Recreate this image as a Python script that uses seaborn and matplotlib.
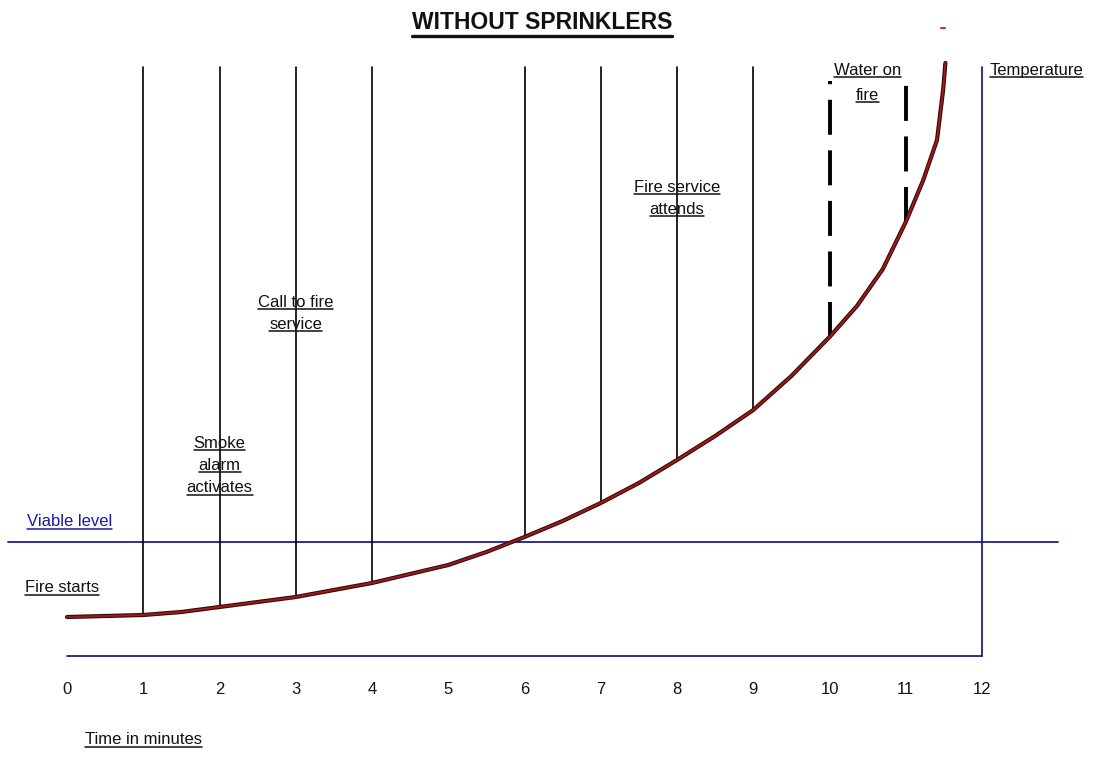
import matplotlib
matplotlib.use("Agg")
import matplotlib.pyplot as plt
import matplotlib.patheffects as pe
from matplotlib.lines import Line2D
import seaborn as sns
import pandas as pd

# ---- data (temperature in arbitrary units) ----
minutes = [0, 0.5, 1, 1.5, 2, 2.5, 3, 3.5, 4, 4.5, 5, 5.5, 6, 6.5, 7, 7.5, 8, 8.5,
           9, 9.5, 10, 10.36, 10.7, 11, 11.23, 11.41, 11.49, 11.52]
temperature = [39, 40, 41, 44, 49, 54, 59, 66, 73, 82, 91, 104, 119, 135, 153, 173, 196, 220,
               246, 280, 319, 350, 387, 434, 476, 516, 566, 593]

event_minutes = [1, 2, 3, 4, 6, 7, 8, 9]          # solid event lines
water_minutes = [10, 11]                          # dashed "water on fire" lines
viable_level = 114
tick_labels = [str(i) for i in range(13)]
top_level = 589
axis_base = 0

title = "WITHOUT SPRINKLERS"
labels = [
    ("Water on", 10.5, 586), ("fire", 10.5, 561),
    ("Fire service", 8.0, 469), ("attends", 8.0, 447),
    ("Call to fire", 3.0, 354), ("service", 3.0, 332),
    ("Smoke", 2.0, 213), ("alarm", 2.0, 191), ("activates", 2.0, 168),
]

sns.set_theme(style="white")
plt.rcParams['font.family'] = ['Liberation Sans', 'DejaVu Sans']

fig = plt.figure(figsize=(10.94, 7.78), dpi=100)
ax = fig.add_axes([0, 0, 1, 1])
ax.set_xlim(-67 / 76.25, (1094 - 67) / 76.25)
ax.set_ylim(-122, 656)
ax.axis("off")

blue = "#1c1c8c"
navy_text = "#1a1aa0"
fs = 12

# axes lines
ax.plot([0, 12], [axis_base, axis_base], color=blue, lw=1.3)
ax.plot([12, 12], [axis_base, top_level], color=blue, lw=1.3)
ax.plot([-59 / 76.25, 13.0], [viable_level, viable_level], color=blue, lw=1.3)

temp_at = dict(zip(minutes, temperature))
for m in event_minutes:
    ax.plot([m, m], [temp_at[m], top_level], color="black", lw=1.2)
for m in water_minutes:
    ax.plot([m, m], [temp_at[m], top_level - 14], color="black", lw=2.8,
            linestyle=(0, (9, 4)))

df = pd.DataFrame({"minutes": minutes, "temperature": temperature})
sns.lineplot(data=df, x="minutes", y="temperature", ax=ax, color="#a01818",
             lw=1.5, sort=False,
             path_effects=[pe.Stroke(linewidth=3.0, foreground="#2a0a0a"), pe.Normal()])
ax.plot([11.46, 11.52], [628, 628], color="#d03020", lw=1.5)

texts = []
texts.append(ax.text(6.23, 634, title, ha="center", va="center", fontsize=16.5,
                     fontweight="bold", color="#111111"))
for s, x, y in labels:
    texts.append(ax.text(x, y, s, ha="center", va="center", fontsize=fs, color="#111111"))
texts.append(ax.text(12.1, 586, "Temperature", ha="left", va="center", fontsize=fs, color="#111111"))
texts.append(ax.text(-0.525, 134, "Viable level", ha="left", va="center", fontsize=fs, color=navy_text))
texts.append(ax.text(-0.55, 68, "Fire starts", ha="left", va="center", fontsize=fs, color="#111111"))
texts.append(ax.text(0.236, -84, "Time in minutes", ha="left", va="center", fontsize=fs, color="#111111"))

for i, lab in enumerate(tick_labels):
    ax.text(i, -34, lab, ha="center", va="center", fontsize=fs, color="#111111")

# underlines
fig.canvas.draw()
r = fig.canvas.get_renderer()
inv = fig.transFigure.inverted()
for t in texts:
    bb = t.get_window_extent(r)
    is_title = t.get_text() == title
    lw = 2.4 if is_title else 1.1
    dy = -2 if is_title else 1
    p0 = inv.transform((bb.x0, bb.y0 + dy))
    p1 = inv.transform((bb.x1, bb.y0 + dy))
    fig.add_artist(Line2D([p0[0], p1[0]], [p0[1], p1[1]], color=t.get_color(), lw=lw,
                          transform=fig.transFigure))

fig.savefig("out.png", dpi=100)
